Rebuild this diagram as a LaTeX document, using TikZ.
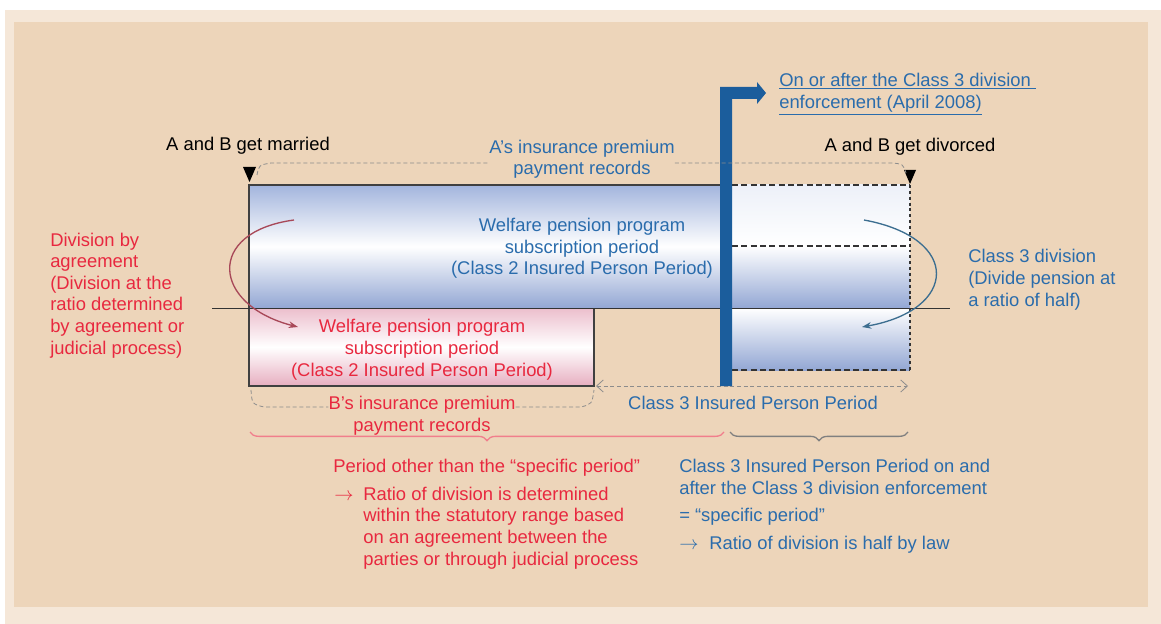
\documentclass[tikz,border=0pt]{standalone}
\usepackage{fontspec}
\setmainfont{Liberation Sans}
\usetikzlibrary{arrows.meta,decorations.pathreplacing}
\definecolor{panel}{HTML}{EDD5BA}
\definecolor{panelrim}{HTML}{F5E7D8}
\definecolor{redtext}{HTML}{E8283F}
\definecolor{bluetext}{HTML}{2A6CAC}
\definecolor{barblue}{HTML}{1B5D9C}
\definecolor{cylblue}{HTML}{A3B5DD}
\definecolor{cyldark}{HTML}{93A7D4}
\definecolor{cylpink}{HTML}{E7AEC0}
\definecolor{swingred}{HTML}{A84858}
\definecolor{swingblue}{HTML}{3C6E90}
\tikzset{
  lbl/.style={font=\fontsize{13.8}{16.2}\selectfont, inner sep=0pt},
  redlbl/.style={lbl, text=redtext},
  bluelbl/.style={lbl, text=bluetext},
  guide/.style={draw=black!45, line width=0.6pt, dash pattern=on 3pt off 2pt},
  rim/.style={draw=black!75, line width=0.9pt},
  cut/.style={draw=black!80, line width=1.2pt, dash pattern=on 4.5pt off 2.5pt},
  swing/.style={line width=1pt, -{Stealth[length=7pt,width=5pt]}},
  period/.style={decorate, decoration={brace, mirror, amplitude=6.5pt}, line width=1pt},
}

\begin{document}
\begin{tikzpicture}[x=0.75pt,y=-0.75pt]
		%%%%% START %%%%%
		\useasboundingbox (0,0) rectangle (1161,624);
		\fill[white] (0,0) rectangle (1161,624);
		\fill[panelrim] (5,10) rectangle (1161,624);
		\fill[panel] (14,22) rectangle (1148,607);
		
		% A's period (cylinder)
		\shade[top color=cylblue, bottom color=cyldark, middle color=white] (249,185) rectangle (720,308);
		\shade[top color=white!80!cylblue, bottom color=white] (732,185) rectangle (910,246);
		\shade[top color=white, bottom color=cyldark] (732,246) rectangle (910,308);
		\shade[top color=white, bottom color=cyldark] (732,308) rectangle (910,370);
		
		% B's period
		\shade[top color=cylpink!80, bottom color=cylpink, middle color=white] (249,308) rectangle (594,386);
		
		\draw[rim] (720,185) -- (249,185) -- (249,386) -- (594,386) -- (594,308);
		\draw[black!80, line width=0.7pt] (212,308) -- (950,308);
		
		\draw[cut] (732,185) -- (910,185);
		\draw[cut] (732,246) -- (910,246);
		\draw[cut] (732,370) -- (910,370);
		\draw[draw=black!80, line width=1.5pt, dash pattern=on 2.2pt off 2.2pt] (910,185) -- (910,370);
		
		% enforcement bar
		\fill[barblue] (720,386) -- (720,87) -- (757,87) -- (757,82) -- (766,93)
		  -- (757,104) -- (757,99) -- (732,99) -- (732,386) -- cycle;
		
		% markers
		\fill[black] (243,167) -- (256,167) -- (249.5,182) -- cycle;
		\fill[black] (904,170) -- (916,170) -- (910,184) -- cycle;
		
		% labels
		\node[lbl, anchor=base] (married) at (248,151) {A and B get married};
		\node[lbl, anchor=base] (divorced) at (910,152) {A and B get divorced};
		\node[bluelbl, anchor=base, align=center] (arecords) at (582,175) {A's insurance premium\\payment records};
		\node[bluelbl, anchor=base west, align=left] (enforce) at (779,109)
		  {\underline{On or after the Class 3 division\ }\\[1pt]\underline{enforcement (April 2008)}};
		
		\draw[guide] (257,175) .. controls (259,165) .. (271,163) -- (arecords.west |- 0,163);
		\draw[guide] (arecords.east |- 0,163) -- (892,163) .. controls (903,164) .. (906,173);
		
		\node[bluelbl, anchor=base, align=center] (welfareA) at (582,275)
		  {Welfare pension program\\subscription period\\(Class 2 Insured Person Period)};
		\node[redlbl, anchor=base, align=center] (welfareB) at (422,376)
		  {Welfare pension program\\subscription period\\(Class 2 Insured Person Period)};
		
		\node[redlbl, anchor=base west, align=left] (agree) at (50,354)
		  {Division by\\agreement\\(Division at the\\ratio determined\\by agreement or\\judicial process)};
		\node[bluelbl, anchor=base west, align=left] (halfdiv) at (968,306)
		  {Class 3 division\\(Divide pension at\\a ratio of half)};
		
		% division swings
		\coordinate (redfrom) at (294,220);
		\coordinate (redto) at (298,327);
		\coordinate (bluefrom) at (864,220);
		\coordinate (blueto) at (862,327);
		\draw[swing, swingred] (redfrom) .. controls (205,232) and (212,305) .. (redto);
		\draw[swing, swingblue] (bluefrom) .. controls (962,238) and (958,310) .. (blueto);
		
		% class 3 period
		\coordinate (c3from) at (596,386);
		\coordinate (c3to) at (908,386);
		\draw[guide, {Straight Barb[length=5pt,width=9pt]}-{Straight Barb[length=5pt,width=9pt]}] (c3from) -- (c3to);
		\node[bluelbl, anchor=base] (class3) at (753,409) {Class 3 Insured Person Period};
		
		\node[redlbl, anchor=base, align=center] (brecords) at (422,431) {B's insurance premium\\payment records};
		\draw[guide] (251,390) .. controls (252,404) .. (264,407) -- (brecords.west |- 0,407);
		\draw[guide] (brecords.east |- 0,407) -- (581,407) .. controls (592,404) .. (594,390);
		
		% braces
		\draw[period, draw=redtext!60] (250,432) -- (724,432);
		\draw[period, draw=black!50] (730,432) -- (908,432);
		
		\node[redlbl, anchor=base west] (otherperiod) at (333,472) {Period other than the “specific period”};
		\node[redlbl, anchor=base west] (otherarrow) at (334,500) {$\rightarrow$};
		\node[redlbl, anchor=base west, align=left] (otherratio) at (363,565)
		  {Ratio of division is determined\\within the statutory range based\\on an agreement between the\\parties or through judicial process};
		
		\node[bluelbl, anchor=base west, align=left] (c3after) at (679,494)
		  {Class 3 Insured Person Period on and\\after the Class 3 division enforcement};
		\node[bluelbl, anchor=base west] (specific) at (679,521) {= “specific period”};
		\node[bluelbl, anchor=base west] (halfarrow) at (679,549) {$\rightarrow$};
		\node[bluelbl, anchor=base west] (halfratio) at (709,549) {Ratio of division is half by law};
		%%%%% END %%%%%
	\end{tikzpicture}
\end{document}
